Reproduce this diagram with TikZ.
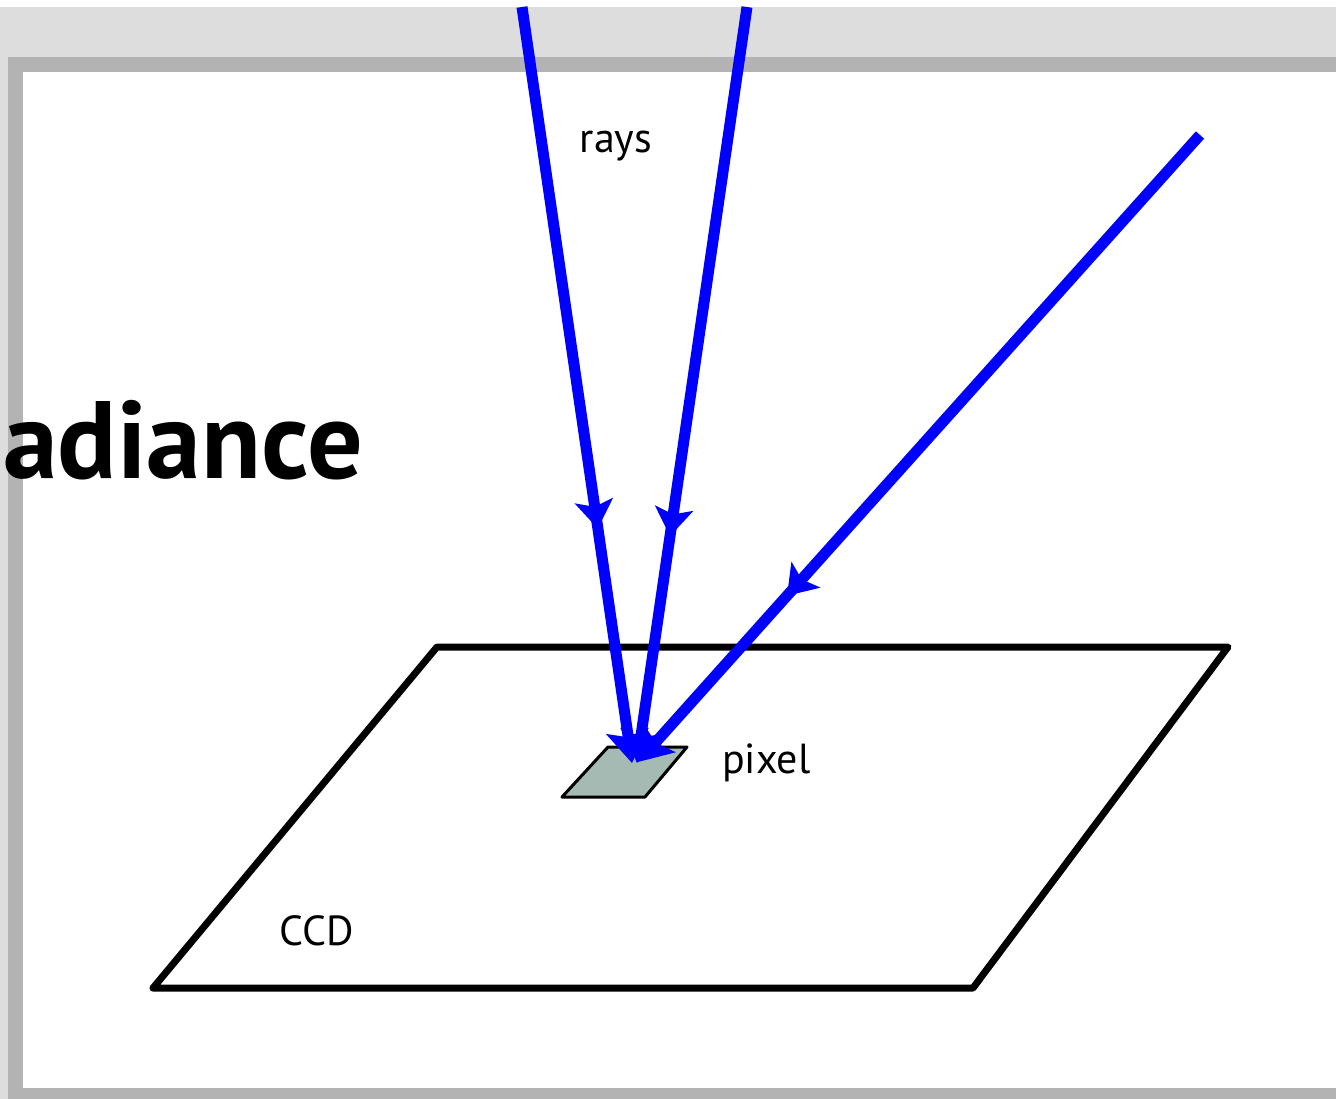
\documentclass[tikz,border=0pt]{standalone}
\usepackage{fontspec}
\setmainfont{PT Sans}
\usetikzlibrary{arrows.meta,decorations.markings}
\definecolor{bglight}{RGB}{221,221,221}
\definecolor{framegray}{RGB}{179,179,179}
\definecolor{pixfill}{RGB}{165,186,178}
\definecolor{rayblue}{RGB}{0,0,255}
\begin{document}
\begin{tikzpicture}[x=1pt,y=-1pt,
  ray/.style={draw=rayblue, line width=11pt,
    -{Stealth[length={32pt 0 0},width={42pt 0 0},inset={6pt 0}]},
    postaction={decorate},
    decoration={markings, mark=at position #1 with {\arrow[rayblue]{Stealth[length={28pt 0 0},width={38pt 0 0},inset={6pt 0}]}}}},
  outline/.style={draw=black, line width=7pt, line join=round, line cap=round},
  pixbox/.style={fill=pixfill, draw=black, line width=3pt, line join=round},
  lbl/.style={font=\fontsize{42}{48}\selectfont, text=black, inner sep=0pt},
  title/.style={font=\fontsize{110}{130}\selectfont\bfseries, text=black, inner sep=0pt}
]
\useasboundingbox (0,0) rectangle (1336,1099);
% background and frame
\fill[white] (0,0) rectangle (1336,1099);
\fill[bglight] (0,7) rectangle (1336,1099);
\fill[framegray] (8,57) rectangle (1336,1099);
\fill[white] (23,72) rectangle (1336,1088);

% title fragment
\node[title, anchor=base east] (title) at (363,478) {adiance};

% CCD plane
\coordinate (c1) at (437,647);
\coordinate (c2) at (1228,647);
\coordinate (c3) at (973,988);
\coordinate (c4) at (153,988);
\draw[outline] (c1) -- (c2) -- (c3) -- (c4) -- cycle;
\node[lbl, anchor=base] (ccd) at (317,945) {CCD};

% pixel
\coordinate (p1) at (608,747);
\coordinate (p2) at (687,747);
\coordinate (p3) at (645,797);
\coordinate (p4) at (562,797);
\draw[pixbox] (p1) -- (p2) -- (p3) -- (p4) -- cycle;
\node[lbl, anchor=base west] (pixel) at (722,773) {pixel};

% rays
\node[lbl, anchor=base] (rays) at (616,153) {rays};
\coordinate (r1s) at (522,7);
\coordinate (r2s) at (747,7);
\coordinate (r3s) at (1200,135);
\coordinate (r1e) at (632,763);
\coordinate (r2e) at (637,763);
\coordinate (r3e) at (638,762);
\draw[ray=0.69, line cap=butt] (r1s) -- (r1e);
\draw[ray=0.70, line cap=butt] (r2s) -- (r2e);
\draw[ray=0.735, line cap=butt] (r3s) -- (r3e);
\end{tikzpicture}
\end{document}
